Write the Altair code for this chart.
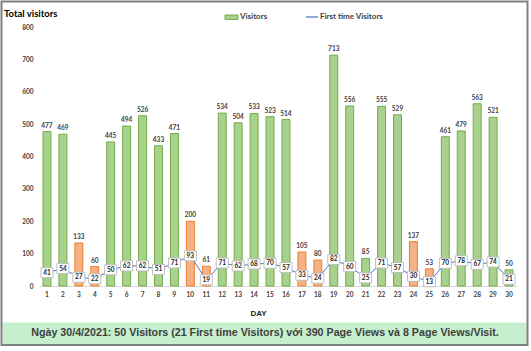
import altair as alt
import pandas as pd

days = list(range(1, 31))
visitors = [477, 469, 133, 60, 445, 494, 526, 433, 471, 200, 61, 534, 504, 533, 523,
            514, 105, 80, 713, 556, 85, 555, 529, 137, 53, 461, 479, 563, 521, 50]
first_time = [41, 54, 27, 22, 50, 62, 62, 51, 71, 93, 19, 71, 62, 68, 70,
              57, 33, 24, 82, 60, 25, 71, 57, 30, 13, 70, 78, 67, 74, 21]
weekend_days = [3, 4, 10, 11, 17, 18, 24, 25]
y_ticks = [0, 100, 200, 300, 400, 500, 600, 700, 800]

title_text = "Total visitors"
x_title = "DAY"
legend_bar = "Visitors"
legend_line = "First time Visitors"
banner_text = "Ngày 30/4/2021: 50 Visitors (21 First time Visitors) với 390 Page Views và 8 Page Views/Visit."

df = pd.DataFrame({
    "Day": days,
    "Visitors": visitors,
    "First": first_time,
    "Kind": ["weekend" if d in weekend_days else "weekday" for d in days],
})

W, H = 478, 259
FONT = "Lato"
LABEL_COLOR = "#404040"

base = alt.Chart(df)

xaxis = alt.Axis(labelAngle=0, ticks=False, domain=True, domainColor="#d9d9d9",
                 labelPadding=5, labelFontSize=6.5, labelFontWeight="bold",
                 labelColor=LABEL_COLOR, labelFont=FONT, labelOverlap=False,
                 titleFont="Liberation Sans", titleFontSize=8, titleFontWeight="bold",
                 titleColor="#262626", titleX=219, titleY=27,
                 titleAlign="center", titleBaseline="middle")
xscale = alt.Scale(paddingInner=0.5, paddingOuter=0.25)
yaxis = alt.Axis(values=y_ticks, grid=False, domain=False, ticks=False,
                 labelPadding=6, labelFontSize=6.5, labelFontWeight="bold",
                 labelColor=LABEL_COLOR, labelFont=FONT, labelOverlap=False,
                 labelFlush=False, labelBound=False)
yscale = alt.Scale(domain=[0, 800], nice=False)


def X():
    return alt.X("Day:O", title=x_title, scale=xscale, axis=xaxis)


def Y(field):
    return alt.Y(field, scale=yscale, title=None, axis=yaxis)


bars = base.mark_bar(strokeWidth=1).encode(
    x=X(),
    y=Y("Visitors:Q"),
    fill=alt.Fill("Kind:N", scale=alt.Scale(domain=["weekday", "weekend"],
                                            range=["#a9d18e", "#f4b183"]), legend=None),
    stroke=alt.Stroke("Kind:N", scale=alt.Scale(domain=["weekday", "weekend"],
                                                range=["#70ad47", "#ed7d31"]), legend=None),
)

bar_labels = base.mark_text(baseline="bottom", dy=-3, fontSize=6.5, fontWeight="bold",
                            font=FONT, color=LABEL_COLOR).encode(
    x=X(), y=Y("Visitors:Q"), text="Visitors:Q")

line = base.mark_line(color="#4472c4", strokeWidth=1).encode(
    x=X(), y=Y("First:Q"))

boxes = base.mark_point(shape="M-1.2,-1L1.2,-1L1.2,1L-1.2,1Z", size=100, filled=True,
                        fill="white", stroke="#bfbfbf", strokeWidth=1, opacity=1).encode(
    x=X(), y=Y("First:Q"))

box_labels = base.mark_text(baseline="middle", fontSize=6.5, fontWeight="bold",
                            font=FONT, color="#262626").encode(
    x=X(), y=Y("First:Q"), text="First:Q")

one = alt.Chart(pd.DataFrame({"a": [0]}))

border = one.mark_rect(fill=None, stroke="#808080", strokeWidth=2).encode(
    x=alt.value(-37.5), x2=alt.value(488.5), y=alt.value(-25.5), y2=alt.value(318))

banner = one.mark_rect(fill="#c6efce", stroke=None).encode(
    x=alt.value(-36.5), x2=alt.value(487.5), y=alt.value(295.5), y2=alt.value(317))

banner_t = one.mark_text(text=banner_text, font="Liberation Sans", fontSize=10.7,
                         fontWeight="bold", color="#404040", align="center",
                         baseline="middle").encode(x=alt.value(226), y=alt.value(306))

title = one.mark_text(text=title_text, font=FONT, fontSize=9.5, fontWeight="bold",
                      color="#000000", align="left", baseline="middle").encode(
    x=alt.value(-35), y=alt.value(-13))

leg_sw = one.mark_rect(fill="#a9d18e", stroke="#70ad47", strokeWidth=1).encode(
    x=alt.value(186), x2=alt.value(199), y=alt.value(-12), y2=alt.value(-7.5))
leg_t1 = one.mark_text(text=legend_bar, font=FONT, fontSize=8, fontWeight="bold",
                       color="#404040", align="left", baseline="middle").encode(
    x=alt.value(201), y=alt.value(-10))
leg_ln = one.mark_rule(color="#4472c4", strokeWidth=1.2).encode(
    x=alt.value(267), x2=alt.value(279), y=alt.value(-10))
leg_t2 = one.mark_text(text=legend_line, font=FONT, fontSize=8, fontWeight="bold",
                       color="#404040", align="left", baseline="middle").encode(
    x=alt.value(281), y=alt.value(-10))

chart = alt.layer(
    banner, border, bars, bar_labels, line, boxes, box_labels,
    banner_t, title, leg_sw, leg_t1, leg_ln, leg_t2
).properties(
    width=W, height=H,
    padding={"left": 39, "top": 27, "right": 14, "bottom": 65},
    autosize=alt.AutoSizeParams(type="none"),
    background="white",
).configure_view(stroke=None).configure_axisY(labelOverlap=False)

chart.save("out.html", embed_options={"renderer": "svg", "actions": False})
